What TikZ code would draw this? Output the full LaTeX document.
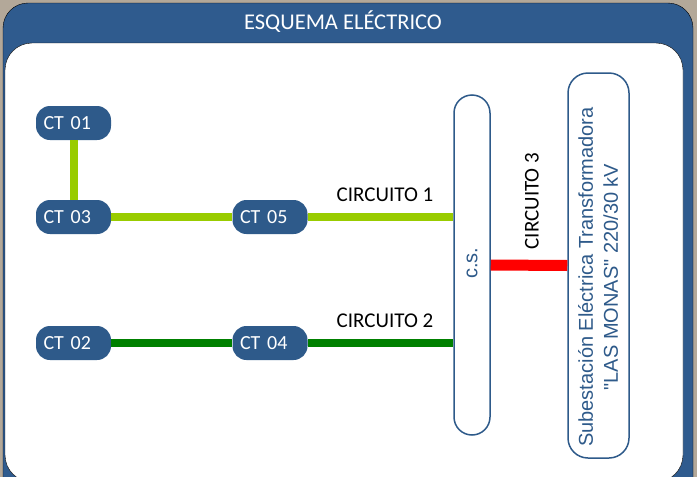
\documentclass[tikz,border=0pt]{standalone}
\usepackage{fontspec}
\setmainfont{Carlito}
\newfontfamily\arialfont{Liberation Sans}

\definecolor{panelblue}{HTML}{2F5B8E}
\definecolor{ctblue}{HTML}{2E5A8A}
\definecolor{lightgreen}{HTML}{99CC00}
\definecolor{darkgreen}{HTML}{008000}
\definecolor{backbeige}{HTML}{B3A899}

\begin{document}
\begin{tikzpicture}[x=1pt, y=-1pt,
  ctbox/.style={fill=ctblue, text=white, rounded corners=14pt, text width=60pt, align=left,
    inner xsep=7.5pt, inner ysep=0pt, minimum height=34pt, font=\fontsize{20}{24}\selectfont},
  busbox/.style={draw=ctblue, line width=1.5pt, fill=white, rounded corners=18pt},
  feeder/.style={line width=8pt},
  circlabel/.style={font=\fontsize{21}{25}\selectfont},
  bluetext/.style={text=ctblue, font=\arialfont\fontsize{20}{25}\selectfont, rotate=90, align=center}]

\useasboundingbox (0,0) rectangle (697,477);
\fill[backbeige] (0,0) rectangle (697,477);

% panels
\draw[fill=panelblue, rounded corners=25pt] (3,3) rectangle (693,510);
\draw[fill=white, rounded corners=27pt] (5,43) rectangle (683,482);
\node[text=white, font=\fontsize{22.5}{26}\selectfont] (title) at (343,22) {ESQUEMA ELÉCTRICO};

% centros de transformacion
\node[ctbox] (ct01) at (73.5,123) {CT 01};
\node[ctbox] (ct03) at (73.5,217) {CT 03};
\node[ctbox] (ct05) at (270,217) {CT 05};
\node[ctbox] (ct02) at (73.5,343) {CT 02};
\node[ctbox] (ct04) at (270,343) {CT 04};

% centro de seccionamiento y subestacion
\node[busbox, minimum width=36pt, minimum height=340pt] (cs) at (472,265) {};
\node[bluetext] (cstext) at (472,263) {c.s.};
\node[busbox, rounded corners=20pt, minimum width=61pt, minimum height=385pt] (sub) at (598.5,265.5) {};
\node[bluetext] (subtext) at (598,277) {Subestación Eléctrica Transformadora\\"LAS MONAS" 220/30 kV};

% circuito 1
\draw[feeder, lightgreen] (ct01.south) -- (ct03.north);
\draw[feeder, lightgreen] (ct03.east) -- (ct05.west);
\draw[feeder, lightgreen] (ct05.east) -- (ct05.east -| cs.west);
\node[circlabel] (c1) at (385,195) {CIRCUITO 1};

% circuito 2
\draw[feeder, darkgreen] (ct02.east) -- (ct04.west);
\draw[feeder, darkgreen] (ct04.east) -- (ct04.east -| cs.west);
\node[circlabel] (c2) at (385,321) {CIRCUITO 2};

% circuito 3
\draw[line width=11pt, red] (cs.east) -- (sub.west);
\node[circlabel, rotate=90] (c3) at (532,201) {CIRCUITO 3};
\end{tikzpicture}
\end{document}
